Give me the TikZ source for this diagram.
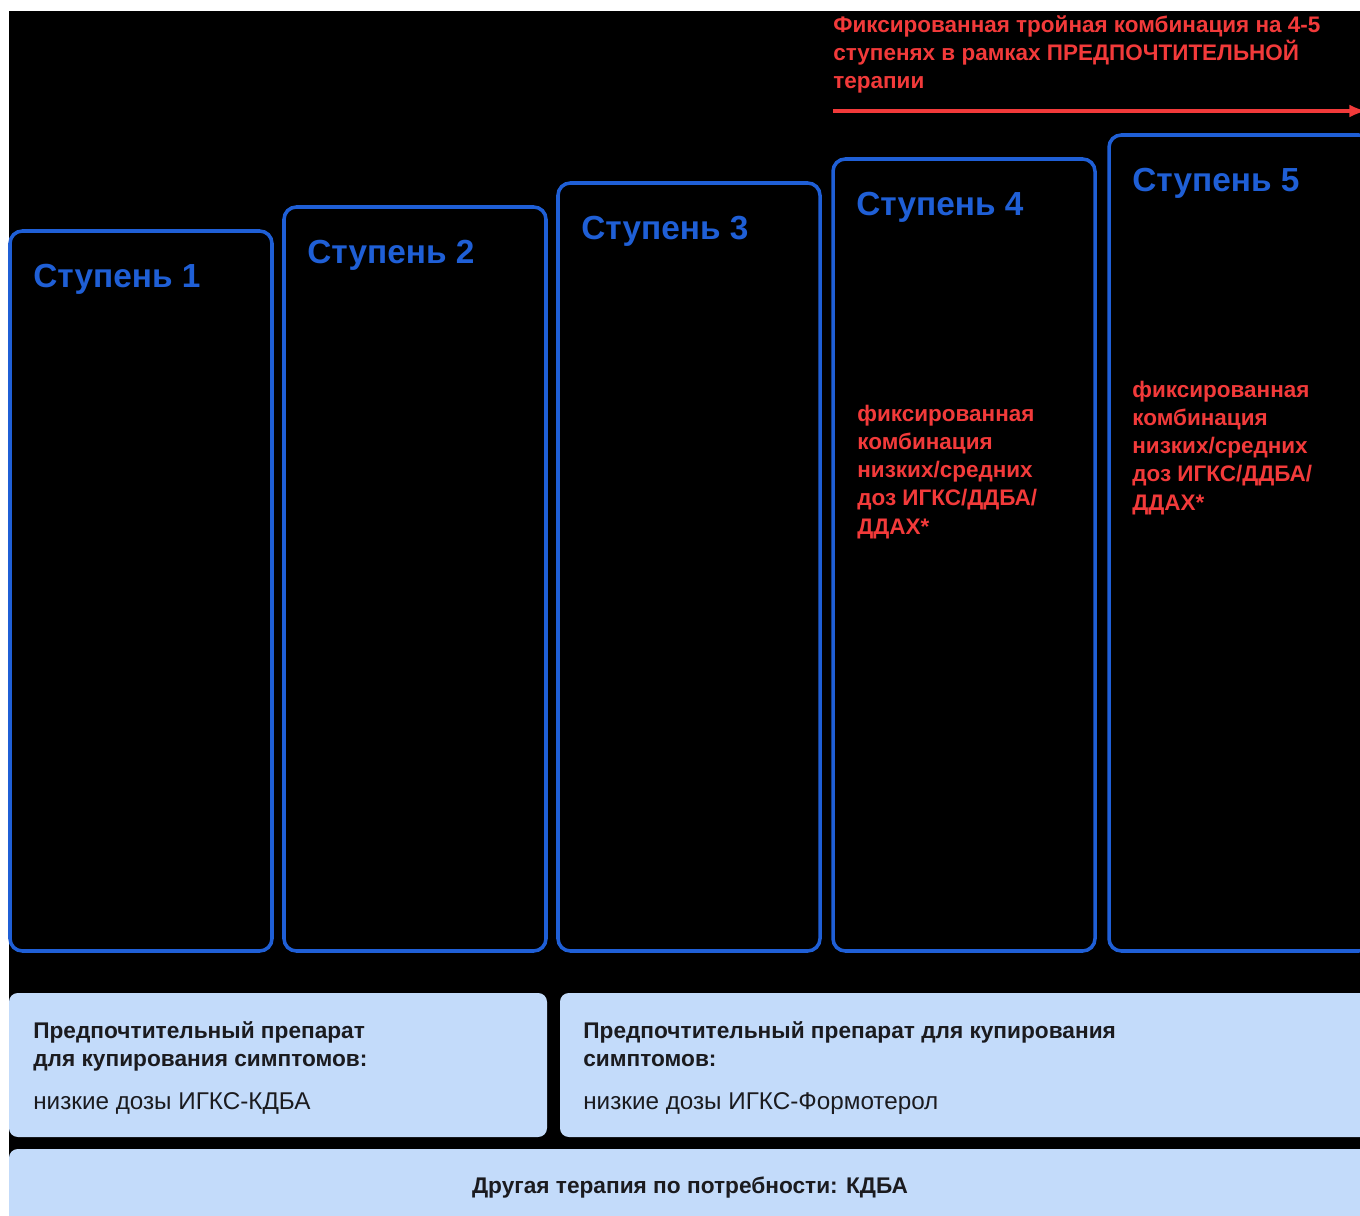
\documentclass[tikz,border=0pt]{standalone}
\usepackage{fontspec}
\setmainfont{Liberation Sans}

\definecolor{stepblue}{HTML}{1F5FD6}
\definecolor{fixred}{HTML}{F23A3A}
\definecolor{relief}{HTML}{C3DBFA}
\definecolor{inkdark}{HTML}{1B1B1F}

\begin{document}
\begin{tikzpicture}[x=0.02cm,y=-0.02cm,
    stepframe/.style={draw=stepblue,line width=2pt,rounded corners=7pt},
    steptitle/.style={anchor=base west,inner sep=0pt,text=stepblue,font=\fontsize{19}{24}\selectfont\bfseries},
    redtext/.style={anchor=north west,inner sep=0pt,align=left,text=fixred,font=\fontsize{12.8}{16}\selectfont\bfseries},
    reliefbox/.style={fill=relief,rounded corners=5pt},
    prefhead/.style={anchor=north west,inner sep=0pt,align=left,text=inkdark,font=\fontsize{12.9}{16}\selectfont\bfseries},
    prefdose/.style={anchor=north west,inner sep=0pt,align=left,text=inkdark,font=\fontsize{13.8}{16}\selectfont}]

    % Background
    \useasboundingbox (0,0) rectangle (1360,1216);
    \clip (0,0) rectangle (1360,1216);
    \fill[black] (9,11) rectangle (1360,1216);

    % Steps
    \foreach \i/\x/\y in {1/10/231, 2/284/207, 3/558/183, 4/833/159, 5/1109/135} {
      \draw[stepframe] (\x,\y) rectangle (\x+262,951);
      \node[steptitle] (step\i) at (\x+23,\y+57) {Ступень \i};
    }

    % Fixed triple combination in steps 4 and 5
    \node[redtext] (triple4) at (857,405) {фиксированная\\комбинация\\низких/средних\\доз ИГКС/ДДБА/\\ДДАХ*};
    \node[redtext] (triple5) at (1132,381) {фиксированная\\комбинация\\низких/средних\\доз ИГКС/ДДБА/\\ДДАХ*};

    % Note over steps 4-5 with arrow
    \node[redtext] (preferred) at (833,15) {Фиксированная тройная комбинация на 4-5\\ступенях в рамках ПРЕДПОЧТИТЕЛЬНОЙ\\терапии};
    \coordinate (arrowstart) at (833,111);
    \coordinate (arrowend) at (1366,111);
    \draw[-latex,fixred,line width=2.2pt] (arrowstart) -- (arrowend);

    % Reliever boxes
    \fill[reliefbox] (9,993) rectangle (547,1137);
    \fill[reliefbox] (560,993) rectangle (1380,1137);
    \fill[reliefbox] (9,1149) rectangle (1380,1240);

    \node[prefhead] (prefA) at (33,1021) {Предпочтительный препарат\\для купирования симптомов:};
    \node[prefdose] (doseA) at (33,1092) {низкие дозы ИГКС-КДБА};
    \node[prefhead] (prefB) at (583,1021) {Предпочтительный препарат для купирования\\симптомов:};
    \node[prefdose] (doseB) at (583,1092) {низкие дозы ИГКС-Формотерол};
    \node[prefhead,anchor=center] (other) at (690,1188) {Другая терапия по потребности: КДБА};
\end{tikzpicture}
\end{document}
